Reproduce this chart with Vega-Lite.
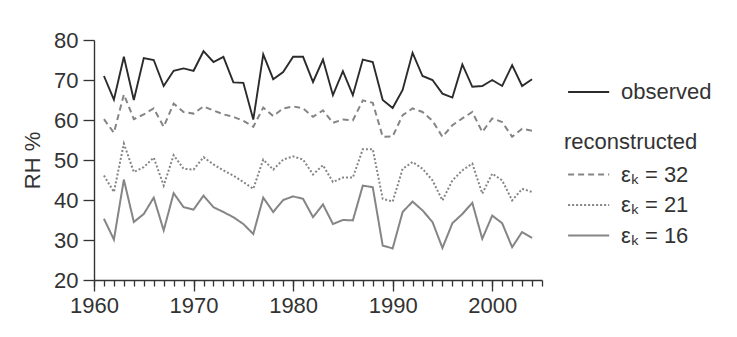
{
  "$schema": "https://vega.github.io/schema/vega-lite/v6.json",
  "autosize": {"type": "none"},
  "padding": {"left": 94, "top": 40, "right": 195, "bottom": 57},
  "width": 448,
  "height": 240,
  "background": "white",
  "config": {
    "view": {"stroke": null},
    "font": "Liberation Sans",
    "axis": {"grid": false, "domainColor": "#333", "tickColor": "#333", "labelColor": "#333", "titleColor": "#333", "labelFont": "Liberation Sans", "titleFont": "Liberation Sans", "labelFontSize": 22, "titleFontSize": 22, "titleFontWeight": "normal", "domainWidth": 1.4, "tickWidth": 1.3},
    "legend": {"labelFont": "Liberation Sans", "titleFont": "Liberation Sans", "labelFontSize": 22, "titleFontSize": 22, "titleFontWeight": "normal", "labelColor": "#333", "titleColor": "#333", "padding": 0}
  },
  "data": {"values": [
    {"year": 1961, "observed": 71, "e32": 60.2, "e21": 46.1, "e16": 35.3},
    {"year": 1962, "observed": 65.1, "e32": 56.8, "e21": 42, "e16": 30.1},
    {"year": 1963, "observed": 75.8, "e32": 66.4, "e21": 54.1, "e16": 45.1},
    {"year": 1964, "observed": 65, "e32": 60.2, "e21": 47, "e16": 34.5},
    {"year": 1965, "observed": 75.5, "e32": 61.4, "e21": 48.2, "e16": 36.5},
    {"year": 1966, "observed": 75, "e32": 62.9, "e21": 50.6, "e16": 40.6},
    {"year": 1967, "observed": 68.5, "e32": 58.3, "e21": 43.6, "e16": 32.4},
    {"year": 1968, "observed": 72.3, "e32": 64.1, "e21": 51.2, "e16": 41.7},
    {"year": 1969, "observed": 72.9, "e32": 62, "e21": 47.8, "e16": 38.2},
    {"year": 1970, "observed": 72.3, "e32": 61.6, "e21": 47.6, "e16": 37.6},
    {"year": 1971, "observed": 77.2, "e32": 63.4, "e21": 50.7, "e16": 41.1},
    {"year": 1972, "observed": 74.5, "e32": 62.4, "e21": 48.9, "e16": 38.2},
    {"year": 1973, "observed": 75.8, "e32": 61.4, "e21": 47.4, "e16": 37},
    {"year": 1974, "observed": 69.4, "e32": 60.8, "e21": 46.1, "e16": 35.7},
    {"year": 1975, "observed": 69.3, "e32": 59.8, "e21": 44.5, "e16": 34},
    {"year": 1976, "observed": 60.1, "e32": 58.3, "e21": 42.8, "e16": 31.5},
    {"year": 1977, "observed": 76.4, "e32": 63.1, "e21": 50.1, "e16": 40.6},
    {"year": 1978, "observed": 70.2, "e32": 61, "e21": 47.6, "e16": 37},
    {"year": 1979, "observed": 72, "e32": 62.9, "e21": 50.1, "e16": 40},
    {"year": 1980, "observed": 75.8, "e32": 63.4, "e21": 50.9, "e16": 40.9},
    {"year": 1981, "observed": 75.8, "e32": 62.9, "e21": 50.1, "e16": 40.3},
    {"year": 1982, "observed": 69.5, "e32": 60.8, "e21": 46.4, "e16": 35.7},
    {"year": 1983, "observed": 75.1, "e32": 62.4, "e21": 48.7, "e16": 38.9},
    {"year": 1984, "observed": 66.2, "e32": 59.3, "e21": 44.5, "e16": 34},
    {"year": 1985, "observed": 72.2, "e32": 60.1, "e21": 45.6, "e16": 35},
    {"year": 1986, "observed": 66.2, "e32": 59.9, "e21": 45.6, "e16": 34.9},
    {"year": 1987, "observed": 75.1, "e32": 64.9, "e21": 52.7, "e16": 43.6},
    {"year": 1988, "observed": 74.5, "e32": 64.3, "e21": 52.7, "e16": 43.2},
    {"year": 1989, "observed": 65, "e32": 55.8, "e21": 40.3, "e16": 28.6},
    {"year": 1990, "observed": 63, "e32": 55.9, "e21": 39.6, "e16": 27.9},
    {"year": 1991, "observed": 67.5, "e32": 61.2, "e21": 47.8, "e16": 37},
    {"year": 1992, "observed": 76.8, "e32": 62.9, "e21": 49.5, "e16": 39.6},
    {"year": 1993, "observed": 71, "e32": 62, "e21": 47.8, "e16": 37.4},
    {"year": 1994, "observed": 70, "e32": 59.8, "e21": 44.9, "e16": 34.5},
    {"year": 1995, "observed": 66.6, "e32": 55.8, "e21": 39.9, "e16": 28},
    {"year": 1996, "observed": 65.6, "e32": 58.7, "e21": 44.9, "e16": 34.2},
    {"year": 1997, "observed": 73.9, "e32": 60.4, "e21": 47.4, "e16": 36.5},
    {"year": 1998, "observed": 68.3, "e32": 62, "e21": 49.1, "e16": 39.3},
    {"year": 1999, "observed": 68.5, "e32": 57, "e21": 41.6, "e16": 30.3},
    {"year": 2000, "observed": 70, "e32": 60.4, "e21": 46.6, "e16": 36.1},
    {"year": 2001, "observed": 68.5, "e32": 59.5, "e21": 44.9, "e16": 34.2},
    {"year": 2002, "observed": 73.7, "e32": 55.8, "e21": 39.9, "e16": 28.2},
    {"year": 2003, "observed": 68.5, "e32": 57.8, "e21": 42.8, "e16": 32},
    {"year": 2004, "observed": 70.2, "e32": 57.3, "e21": 42, "e16": 30.5}
  ]},
  "encoding": {
    "y": {"field": "rh", "type": "quantitative",
      "scale": {"domain": [20, 80], "nice": false, "zero": false},
      "axis": {"title": "RH %", "values": [20, 30, 40, 50, 60, 70, 80], "tickSize": 11, "labelPadding": 5, "titlePadding": 9}}
  },
  "resolve": {"axis": {"x": "independent"}},
  "layer": [
    {
      "transform": [{"fold": ["e32", "e21", "e16"], "as": ["series", "rh"]}],
      "mark": {"type": "line", "color": "#858585", "strokeWidth": 2},
      "encoding": {
        "x": {"field": "year", "type": "quantitative",
          "scale": {"domain": [1960, 2005], "nice": false, "zero": false},
          "axis": {"title": null, "orient": "bottom", "labels": false, "tickSize": 6, "tickWidth": 1.3,
            "values": [1960,1961,1962,1963,1964,1965,1966,1967,1968,1969,1970,1971,1972,1973,1974,1975,1976,1977,1978,1979,1980,1981,1982,1983,1984,1985,1986,1987,1988,1989,1990,1991,1992,1993,1994,1995,1996,1997,1998,1999,2000,2001,2002,2003,2004,2005]}},
        "strokeDash": {"field": "series", "type": "nominal",
          "scale": {"domain": ["e32", "e21", "e16"], "range": [[6, 4], [2, 2], [1, 0]]},
          "legend": {"title": "reconstructed", "orient": "none", "legendX": 470, "legendY": 92,
            "labelExpr": "datum.value === 'e32' ? 'εₖ = 32' : datum.value === 'e21' ? 'εₖ = 21' : 'εₖ = 16'",
            "symbolType": "M-0.8,0H1.85", "symbolSize": 961, "symbolStrokeColor": "#858585", "symbolStrokeWidth": 2,
            "labelOffset": 24, "rowPadding": 2.5, "titlePadding": 4}}
      }
    },
    {
      "transform": [{"fold": ["observed"], "as": ["series", "rh"]}],
      "mark": {"type": "line", "strokeWidth": 1.9},
      "encoding": {
        "x": {"field": "year", "type": "quantitative",
          "axis": {"title": null, "orient": "bottom", "format": "d", "tickSize": 11, "labelPadding": 4,
            "values": [1960, 1970, 1980, 1990, 2000], "labelFlush": false, "domain": false}},
        "stroke": {"field": "series", "type": "nominal",
          "scale": {"domain": ["observed"], "range": ["#2b2b2b"]},
          "legend": {"title": null, "orient": "none", "legendX": 470, "legendY": 35.5,
            "symbolType": "M-0.8,0H1.85", "symbolSize": 961, "symbolStrokeWidth": 1.9,
            "labelOffset": 24}}
      }
    }
  ]
}
